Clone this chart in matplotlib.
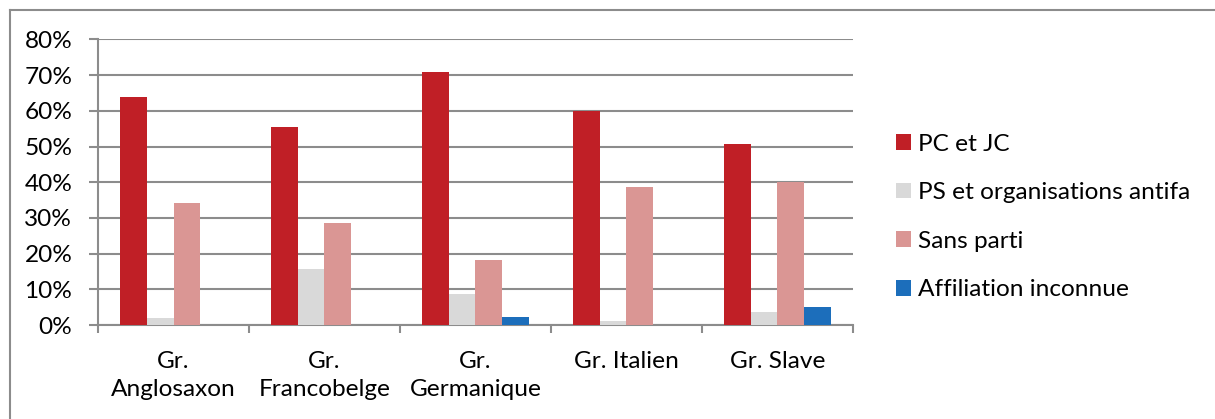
import matplotlib
matplotlib.use("Agg")
import matplotlib.pyplot as plt
import numpy as np
from matplotlib.lines import Line2D
from matplotlib.ticker import FixedLocator, FuncFormatter

categories = ["Gr.\nAnglosaxon", "Gr.\nFrancobelge", "Gr.\nGermanique", "Gr. Italien", "Gr. Slave"]
series_names = ["PC et JC", "PS et organisations antifa", "Sans parti", "Affiliation inconnue"]
pc_jc = [63.8, 55.5, 70.8, 59.9, 50.6]
ps_antifa = [1.9, 15.8, 8.6, 1.1, 3.6]
sans_parti = [34.2, 28.5, 18.2, 38.7, 40.2]
inconnue = [0.0, 0.0, 2.2, 0.0, 5.1]
y_ticks = [0, 10, 20, 30, 40, 50, 60, 70, 80]

colors = ["#C01F26", "#D9D9D9", "#DA9694", "#1C6EBB"]
grid_c = "#8C8C8C"

W, H, DPI = 1215, 419, 100
fig = plt.figure(figsize=(W / DPI, H / DPI), dpi=DPI)
font = "Lato"
plt.rcParams["font.family"] = [font, "DejaVu Sans"]

# size font so that legend text width matches the reference (~211 px)
t = fig.text(0, 0, "Affiliation inconnue", fontsize=19)
fig.canvas.draw()
wpx = t.get_window_extent().width
t.remove()
fs = 19 * 211.0 / wpx
fs_px = fs * DPI / 72.0

ax = fig.add_axes([98 / W, 94 / H, (853 - 98) / W, (325 - 39.5) / H])
series = [pc_jc, ps_antifa, sans_parti, inconnue]
x = np.arange(len(categories))
bw = 1 / 5.6
for i, (vals, name) in enumerate(zip(series, series_names)):
    ax.bar(x + (i - 1.5) * bw, vals, width=bw, color=colors[i], label=name,
           edgecolor="none", zorder=3)

ax.set_xlim(-0.5, len(categories) - 0.5)
ax.set_ylim(0, 80)
ax.set_yticks(y_ticks)
ax.yaxis.set_major_formatter(FuncFormatter(lambda v, p: f"{v:.0f}%"))
ax.yaxis.grid(True, color=grid_c, linewidth=1.5, zorder=0)
ax.set_axisbelow(True)

ax.set_xticks(x)
ax.set_xticklabels(categories)
ax.xaxis.set_minor_locator(FixedLocator(np.arange(-0.5, len(categories), 1.0)))
ax.tick_params(axis="x", which="major", length=0, pad=18.5, labelsize=fs, labelcolor="black")
ax.tick_params(axis="x", which="minor", length=6, width=1.5, color=grid_c, direction="out")
ax.tick_params(axis="y", length=6.5, width=1.5, color=grid_c, pad=12, labelsize=fs, labelcolor="black")
for lbl in ax.get_xticklabels():
    lbl.set_linespacing(1.45)
    lbl.set_verticalalignment("top")

for s in ["top", "right"]:
    ax.spines[s].set_visible(False)
for s in ["left", "bottom"]:
    ax.spines[s].set_color(grid_c)
    ax.spines[s].set_linewidth(1.5)

leg = ax.legend(loc="center left", bbox_to_anchor=(896 / W, 1 - 217 / H),
                bbox_transform=fig.transFigure, frameon=False, fontsize=fs,
                borderaxespad=0, borderpad=0,
                handlelength=15 / fs_px, handleheight=15 / fs_px,
                handletextpad=7 / fs_px, labelspacing=1.13)

# outer chart border (top and left visible)
fig.add_artist(Line2D([10 / W, 10 / W], [0, 1 - 10 / H], transform=fig.transFigure,
                      color=grid_c, linewidth=1.5))
fig.add_artist(Line2D([10 / W, 1], [1 - 10 / H, 1 - 10 / H], transform=fig.transFigure,
                      color=grid_c, linewidth=1.5))

fig.savefig("out.png", dpi=DPI)
